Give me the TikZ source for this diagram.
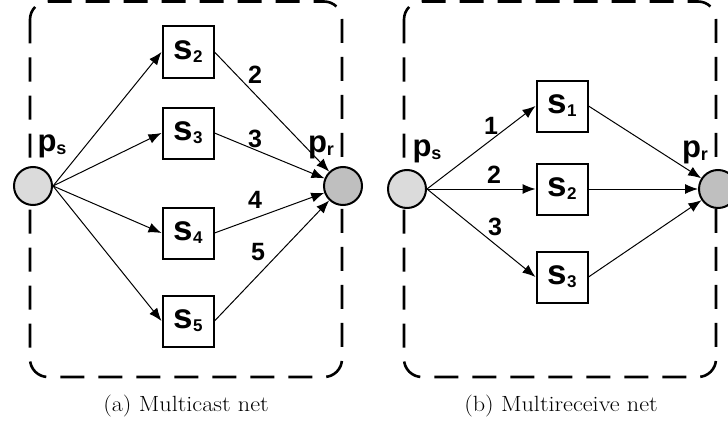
\documentclass[tikz,border=0pt]{standalone}
\usepackage{fontspec}
\usetikzlibrary{arrows.meta}
\newfontfamily\labfont{Liberation Sans}

% bold sans label with a lowered subscript
\newcommand\sublab[4]{{\labfont\bfseries\fontsize{#3}{#3}\selectfont #1\raisebox{-3pt}{\fontsize{#4}{#4}\selectfont #2}}}
% caption text, set a little wide
\newcommand\captxt[1]{\scalebox{1.1}[1]{\fontsize{22}{22}\selectfont #1}}

\tikzset{
  frame/.style={draw, line width=2.6pt, dash pattern=on 24pt off 14pt, rounded corners=18pt},
  trans/.style={draw, line width=2pt, minimum size=51pt, inner sep=0pt, fill=white},
  place/.style={draw, circle, line width=2pt, minimum size=38pt, inner sep=0pt},
  src/.style={place, fill=gray!28},
  snk/.style={place, fill=gray!50},
  arc/.style={-{Latex[length=13pt,width=10pt]}, line width=1pt},
  num/.style={font=\labfont\bfseries\fontsize{25}{25}\selectfont, inner sep=0pt},
  captext/.style={inner sep=0pt}
}

\begin{document}
\begin{tikzpicture}[x=1pt,y=-1pt]
\useasboundingbox (0,0) rectangle (728,428);

% ---------- (a) multicast net ----------
\draw[frame] (30,1.5) rectangle (342,377);
\node[src] (aps) at (33,186) {};
\node[snk] (apr) at (343,186) {};
\node[inner sep=0pt] (apsl) at (52,146) {\sublab{p}{s}{31}{18}};
\node[inner sep=0pt] (aprl) at (321,147) {\sublab{p}{r}{31}{18}};
\node[trans] (a2) at (188,52)  {\sublab{s}{2}{35}{17}};
\node[trans] (a3) at (188,133) {\sublab{s}{3}{35}{17}};
\node[trans] (a4) at (188,233) {\sublab{s}{4}{35}{17}};
\node[trans] (a5) at (188,321) {\sublab{s}{5}{35}{17}};
\foreach \k in {2,3,4,5} {
  \draw[arc] (aps.east) -- (a\k.west);
  \draw[arc] (a\k.east) -- (apr);
}
\node[num] (an2) at (255,75)  {2};
\node[num] (an3) at (255,139) {3};
\node[num] (an4) at (255,200) {4};
\node[num] (an5) at (258,252) {5};
\node[captext] (acap) at (186,406) {\captxt{(a) Multicast net}};

% ---------- (b) multireceive net ----------
\draw[frame] (404,1.5) rectangle (716,377);
\node[src] (bps) at (407,189) {};
\node[snk] (bpr) at (718,189) {};
\node[inner sep=0pt] (bpsl) at (427,151) {\sublab{p}{s}{31}{18}};
\node[inner sep=0pt] (bprl) at (695,152) {\sublab{p}{r}{31}{18}};
\node[trans] (b1) at (562,106) {\sublab{s}{1}{35}{17}};
\node[trans] (b2) at (562,189) {\sublab{s}{2}{35}{17}};
\node[trans] (b3) at (562,277) {\sublab{s}{3}{35}{17}};
\foreach \k in {1,2,3} {
  \draw[arc] (bps.east) -- (b\k.west);
  \draw[arc] (b\k.east) -- (bpr);
}
\node[num] (bn1) at (491,126) {1};
\node[num] (bn2) at (494,175) {2};
\node[num] (bn3) at (495,227) {3};
\node[captext] (bcap) at (561,406) {\captxt{(b) Multireceive net}};
\end{tikzpicture}
\end{document}
